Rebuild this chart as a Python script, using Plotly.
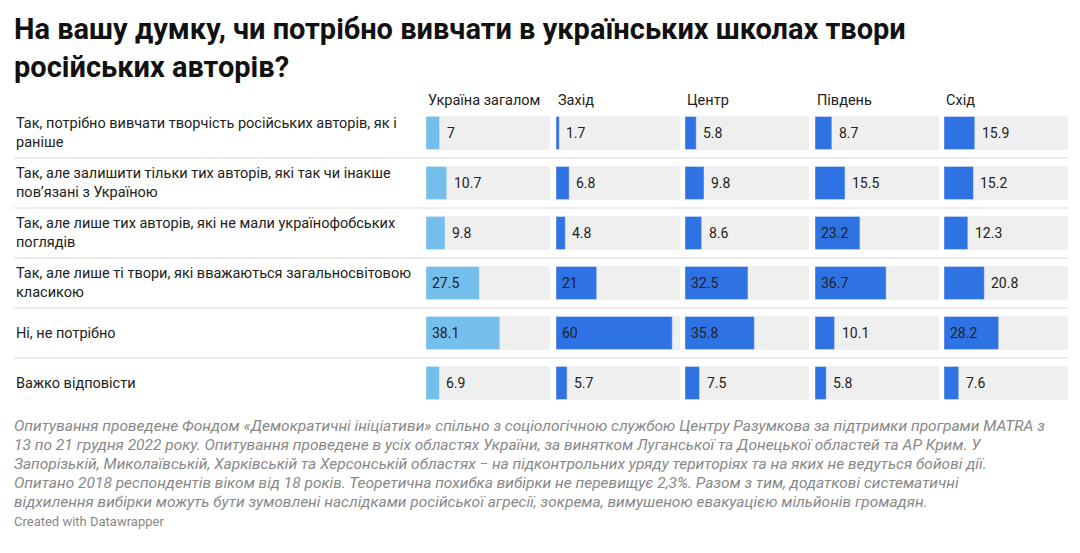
import plotly.graph_objects as go

W, H = 1080, 553

regions = ["Україна загалом", "Захід", "Центр", "Південь", "Схід"]
answers = [
    "Так, потрібно вивчати творчість російських авторів, як і<br>раніше",
    "Так, але залишити тільки тих авторів, які так чи інакше<br>пов’язані з Україною",
    "Так, але лише тих авторів, які не мали українофобських<br>поглядів",
    "Так, але лише ті твори, які вважаються загальносвітовою<br>класикою",
    "Ні, не потрібно",
    "Важко відповісти",
]
values = {
    "Україна загалом": [7, 10.7, 9.8, 27.5, 38.1, 6.9],
    "Захід": [1.7, 6.8, 4.8, 21, 60, 5.7],
    "Центр": [5.8, 9.8, 8.6, 32.5, 35.8, 7.5],
    "Південь": [8.7, 15.5, 23.2, 36.7, 10.1, 5.8],
    "Схід": [15.9, 15.2, 12.3, 20.8, 28.2, 7.6],
}
footnote = [
    "Опитування проведене Фондом «Демократичні ініціативи» спільно з соціологічною службою Центру Разумкова за підтримки програми MATRA з",
    "13 по 21 грудня 2022 року. Опитування проведене в усіх областях України, за винятком Луганської та Донецької областей та АР Крим. У",
    "Запорізькій, Миколаївській, Харківській та Херсонській областях − на підконтрольних уряду територіях та на яких не ведуться бойові дії.",
    "Опитано 2018 респондентів віком від 18 років. Теоретична похибка вибірки не перевищує 2,3%. Разом з тим, додаткові систематичні",
    "відхилення вибірки можуть бути зумовлені наслідками російської агресії, зокрема, вимушеною евакуацією мільйонів громадян.",
]

col_left = [426, 556, 685, 815, 944]
col_w = 124
xmax = 64
font = "Roboto, Arial, sans-serif"
OFF = 8  # page margin of the browser


def px(x):
    return (x - OFF) / W


def py(y):
    return 1 - (y - OFF) / H


fig = go.Figure()
rows = list(range(len(answers)))
ydom = [py(408), py(108)]

for i, reg in enumerate(regions):
    ax = "" if i == 0 else str(i + 1)
    color = "#74bfec" if i == 0 else "#2f72e4"
    fig.add_trace(go.Bar(x=[xmax] * len(rows), y=rows, orientation="h", width=0.66,
                         marker_color="#efefef", hoverinfo="skip", xaxis="x" + ax, yaxis="y" + ax))
    fig.add_trace(go.Bar(x=values[reg], y=rows, orientation="h", width=0.66,
                         marker_color=color, xaxis="x" + ax, yaxis="y" + ax))
    fig.update_layout(**{
        "xaxis" + ax: dict(domain=[px(col_left[i]), px(col_left[i] + col_w)], range=[0, xmax],
                           visible=False, fixedrange=True),
        "yaxis" + ax: dict(domain=ydom, range=[5.5, -0.5], visible=False, fixedrange=True),
    })
    fig.add_annotation(x=px(col_left[i]), y=py(100), xref="paper", yref="paper", text=reg,
                       showarrow=False, xanchor="left", yanchor="middle",
                       font=dict(family=font, size=14.5, color="#222"))
    for r, v in enumerate(values[reg]):
        inside = v >= 21
        fig.add_annotation(x=0 if inside else v, y=r, xref="x" + ax, yref="y" + ax,
                           text=str(v), showarrow=False, xanchor="left", xshift=4 if inside else 5,
                           font=dict(family=font, size=14, color="#222"))

for r, a in enumerate(answers):
    fig.add_annotation(x=px(14), y=r, xref="paper", yref="y", text=a, showarrow=False,
                       xanchor="left", align="left", font=dict(family=font, size=14.5, color="#222"))
    if r < len(answers) - 1:
        fig.add_shape(type="line", xref="paper", yref="y", x0=px(14), x1=px(1068),
                      y0=r + 0.5, y1=r + 0.5, line=dict(color="#d9d9d9", width=1))

fig.add_annotation(x=px(12), y=py(10), xref="paper", yref="paper", showarrow=False,
                   xanchor="left", yanchor="top", align="left",
                   text="<b>На вашу думку, чи потрібно вивчати в українських школах твори<br>російських авторів?</b>",
                   font=dict(family=font, size=29, color="#111"))
for k, line in enumerate(footnote):
    fig.add_annotation(x=px(12), y=py(437 + 19 * k), xref="paper", yref="paper",
                       text="<i>" + line + "</i>", showarrow=False, xanchor="left",
                       font=dict(family=font, size=15.5, color="#888"))
fig.add_annotation(x=px(12), y=py(531), xref="paper", yref="paper", text="Created with Datawrapper",
                   showarrow=False, xanchor="left", font=dict(family=font, size=13, color="#888"))

fig.update_layout(width=W, height=H, margin=dict(l=0, r=0, t=0, b=0), barmode="overlay",
                  showlegend=False, plot_bgcolor="white", paper_bgcolor="white")
fig.write_html("out.html")
